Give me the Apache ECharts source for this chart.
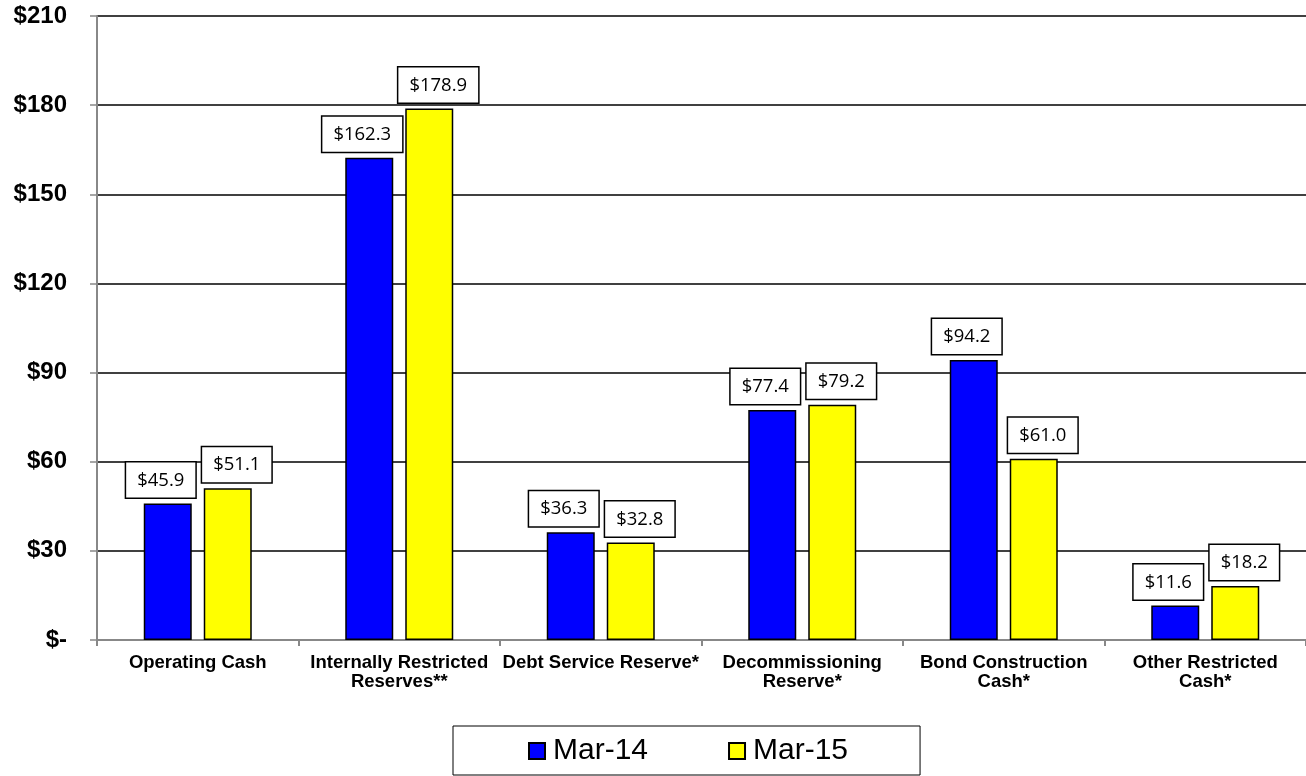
<!DOCTYPE html>
<html>
<head>
<meta charset="utf-8">
<script src="https://cdn.jsdelivr.net/npm/echarts@6/dist/echarts.min.js"></script>
<style>
  html, body { margin: 0; padding: 0; background: #fff; }
  #chart { width: 1306px; height: 776px; }
</style>
</head>
<body>
<div id="chart"></div>
<script>
// Cash and reserve balances ($ millions)
const categories = [
  'Operating Cash',
  'Internally Restricted\nReserves**',
  'Debt Service Reserve*',
  'Decommissioning\nReserve*',
  'Bond Construction\nCash*',
  'Other Restricted\nCash*'
];
const seriesNames = ['Mar-14', 'Mar-15'];
const mar14 = [45.9, 162.3, 36.3, 77.4, 94.2, 11.6];
const mar15 = [51.1, 178.9, 32.8, 79.2, 61.0, 18.2];
const yTicks = { min: 0, max: 210, interval: 30 };

const FONT = '"Liberation Sans", Arial, sans-serif';

// Boxed value label sitting above each bar
function valueLabel(dx) {
  return {
    show: true,
    position: 'top',
    distance: 6,
    offset: [dx, 0],
    formatter: p => '$' + p.value.toFixed(1),
    fontFamily: '"Open Sans", "Noto Sans", sans-serif',
    fontSize: 18.5,
    lineHeight: 24,
    color: '#000',
    backgroundColor: '#fff',
    borderColor: '#000',
    borderWidth: 1.5,
    padding: [6, 11, 5, 11]
  };
}

const chart = echarts.init(document.getElementById('chart'), null, { renderer: 'canvas' });
chart.setOption({
  animation: false,
  backgroundColor: '#fff',
  grid: { left: 97, right: 0, top: 16, bottom: 136, containLabel: false },
  legend: {
    bottom: 1,
    left: 453,
    data: seriesNames,
    itemWidth: 16,
    itemHeight: 16,
    itemGap: 80,
    icon: 'rect',
    borderColor: '#000',
    borderWidth: 1,
    padding: [10, 72, 9, 75],
    textStyle: { fontFamily: FONT, fontSize: 30, color: '#000', padding: [0, 0, 0, 3] }
  },
  xAxis: {
    type: 'category',
    data: categories,
    axisLine: { lineStyle: { color: '#888', width: 2 } },
    axisTick: { show: true, length: 6, lineStyle: { color: '#888', width: 2 } },
    axisLabel: {
      interval: 0,
      margin: 13,
      fontFamily: FONT,
      fontWeight: 'bold',
      fontSize: 18.5,
      lineHeight: 19,
      color: '#000'
    }
  },
  yAxis: {
    type: 'value',
    min: yTicks.min,
    max: yTicks.max,
    interval: yTicks.interval,
    axisLine: { show: true, lineStyle: { color: '#888', width: 2 } },
    axisTick: { show: true, length: 7, lineStyle: { color: '#888', width: 1.5 } },
    splitLine: { lineStyle: { color: '#000', width: 1.5 } },
    axisLabel: {
      margin: 30,
      formatter: v => v === 0 ? '$-' : '$' + v,
      fontFamily: FONT,
      fontWeight: 'bold',
      fontSize: 24,
      color: '#000'
    }
  },
  series: [
    {
      name: seriesNames[0],
      type: 'bar',
      data: mar14,
      barWidth: 48,
      barGap: '25%',
      itemStyle: { color: '#0000FF', borderColor: '#000', borderWidth: 1.5 },
      label: valueLabel(-7)
    },
    {
      name: seriesNames[1],
      type: 'bar',
      data: mar15,
      barWidth: 48,
      itemStyle: { color: '#FFFF00', borderColor: '#000', borderWidth: 1.5 },
      label: valueLabel(9)
    }
  ]
});
</script>
</body>
</html>
